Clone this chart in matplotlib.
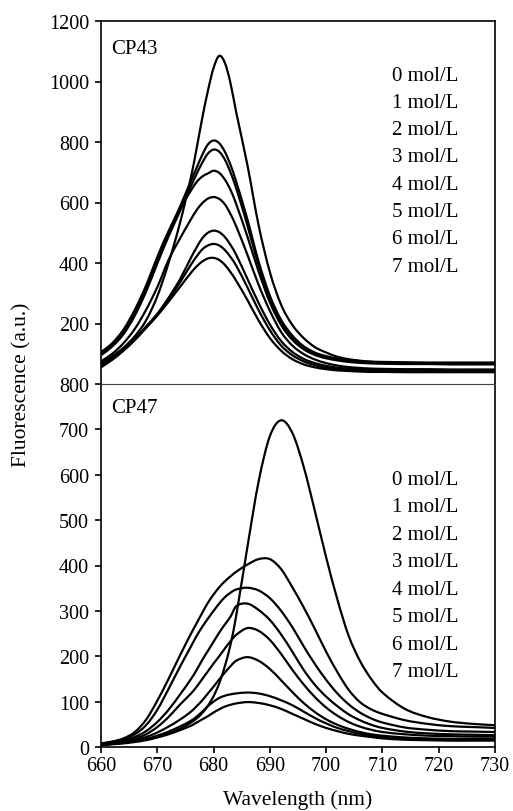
import matplotlib
matplotlib.use("Agg")
import matplotlib.pyplot as plt
from matplotlib.path import Path
from matplotlib.patches import PathPatch

plt.rcParams['font.family'] = ['Liberation Serif', 'DejaVu Serif']
plt.rcParams['font.size'] = 14.5

# Wavelength grid (nm)
wavelength = [660, 662, 664, 666, 668, 670, 672, 674, 676, 677, 678, 679, 680, 681, 682, 683, 684,
              686, 688, 690, 692, 694, 696, 698, 700, 702, 704, 706, 708, 710, 714, 718, 722, 726, 730]

conc_labels = ["0 mol/L", "1 mol/L", "2 mol/L", "3 mol/L", "4 mol/L", "5 mol/L", "6 mol/L", "7 mol/L"]

# CP43 spectra
cp43_0 = [70, 92, 120, 158, 210, 290, 400, 530, 685, 780, 880, 970, 1045, 1085, 1062, 995, 900,
          725, 525, 370, 262, 195, 152, 122, 104, 90, 82, 77, 73, 71, 68, 67, 66, 66, 66]
cp43_1 = [100, 128, 170, 232, 315, 410, 500, 585, 672, 715, 758, 792, 805, 796, 768, 725, 670,
          545, 405, 292, 212, 160, 125, 104, 92, 84, 79, 76, 74, 73, 72, 71, 71, 71, 71]
cp43_2 = [95, 124, 165, 226, 305, 398, 488, 570, 655, 695, 732, 762, 775, 768, 742, 700, 648,
          525, 392, 283, 204, 153, 120, 100, 88, 80, 75, 72, 70, 69, 68, 68, 67, 67, 67]
cp43_3 = [105, 135, 180, 245, 325, 420, 505, 578, 640, 668, 686, 696, 705, 698, 676, 642, 596,
          488, 372, 270, 195, 146, 115, 96, 85, 78, 73, 70, 68, 67, 66, 66, 65, 65, 65]
cp43_4 = [75, 100, 135, 182, 245, 320, 410, 480, 545, 575, 598, 613, 618, 612, 594, 562, 522,
          428, 328, 242, 172, 127, 99, 81, 69, 61, 56, 53, 51, 50, 49, 49, 48, 48, 48]
cp43_5 = [62, 86, 116, 150, 190, 232, 285, 345, 418, 452, 482, 500, 507, 502, 486, 460, 428,
          348, 268, 197, 142, 106, 83, 69, 60, 54, 51, 49, 48, 47, 46, 46, 46, 45, 45]
cp43_6 = [58, 83, 113, 148, 188, 230, 280, 335, 395, 422, 445, 458, 463, 458, 443, 420, 392,
          320, 244, 178, 127, 95, 75, 62, 54, 49, 46, 44, 43, 43, 42, 42, 42, 42, 42]
cp43_7 = [55, 80, 110, 145, 185, 226, 272, 320, 368, 389, 405, 415, 417, 410, 394, 370, 342,
          278, 210, 152, 110, 82, 65, 55, 49, 45, 43, 41, 40, 40, 39, 39, 39, 39, 39]

# CP47 spectra
cp47_0 = [5, 7, 10, 13, 17, 22, 30, 40, 54, 63, 75, 91, 112, 140, 178, 225, 288,
          440, 585, 685, 720, 692, 618, 520, 418, 325, 245, 190, 150, 120, 84, 66, 56, 51, 48]
cp47_1 = [8, 12, 19, 33, 60, 102, 150, 201, 250, 273, 296, 318, 336, 352, 365, 376, 386,
          402, 414, 414, 392, 352, 308, 260, 210, 165, 126, 99, 83, 73, 59, 51, 46, 44, 42]
cp47_2 = [7, 11, 17, 28, 48, 82, 128, 176, 222, 245, 265, 283, 300, 316, 330, 340, 347,
          351, 345, 328, 300, 264, 222, 183, 148, 118, 94, 76, 63, 54, 43, 38, 35, 34, 33]
cp47_3 = [6, 9, 14, 22, 35, 55, 82, 115, 150, 170, 192, 212, 232, 252, 270, 287, 310,
          316, 302, 280, 248, 210, 170, 137, 111, 90, 72, 59, 49, 42, 34, 30, 28, 27, 26]
cp47_4 = [5, 8, 12, 18, 28, 44, 66, 93, 118, 133, 150, 167, 184, 200, 217, 233, 247,
          262, 256, 236, 205, 170, 138, 110, 87, 69, 55, 45, 38, 33, 28, 25, 24, 23, 23]
cp47_5 = [5, 7, 10, 15, 22, 32, 45, 60, 78, 90, 103, 118, 133, 149, 164, 178, 190,
          198, 190, 172, 147, 121, 97, 77, 61, 49, 40, 33, 28, 25, 21, 19, 18, 18, 18]
cp47_6 = [5, 7, 9, 13, 18, 25, 34, 45, 58, 67, 78, 90, 100, 108, 113, 116, 118,
          120, 118, 112, 103, 92, 78, 64, 52, 42, 35, 29, 25, 22, 19, 17, 16, 16, 16]
cp47_7 = [4, 6, 8, 11, 15, 21, 28, 37, 47, 54, 61, 68, 76, 83, 89, 93, 96,
          99, 97, 92, 84, 73, 62, 51, 42, 35, 29, 25, 22, 19, 16, 15, 14, 14, 14]

cp43_series = [cp43_0, cp43_1, cp43_2, cp43_3, cp43_4, cp43_5, cp43_6, cp43_7]
cp47_series = [cp47_0, cp47_1, cp47_2, cp47_3, cp47_4, cp47_5, cp47_6, cp47_7]


def smooth_line(ax, xs, ys, **kw):
    """Draw a 'smoothed line' (cubic Hermite / Bezier segments through the points)."""
    n = len(xs)
    slopes = []
    for i in range(n):
        a, b = max(i - 1, 0), min(i + 1, n - 1)
        slopes.append((ys[b] - ys[a]) / (xs[b] - xs[a]))
    verts = [(xs[0], ys[0])]
    codes = [Path.MOVETO]
    for i in range(n - 1):
        h = xs[i + 1] - xs[i]
        verts += [(xs[i] + h / 3, ys[i] + slopes[i] * h / 3),
                  (xs[i + 1] - h / 3, ys[i + 1] - slopes[i + 1] * h / 3),
                  (xs[i + 1], ys[i + 1])]
        codes += [Path.CURVE4] * 3
    ax.add_patch(PathPatch(Path(verts, codes), fill=False, **kw))


fig = plt.figure(figsize=(5.13, 8.12), dpi=100)
W, H = 513.0, 812.0
ax_top = fig.add_axes([101 / W, 1 - 385 / H, 394 / W, 363 / H])
ax_bot = fig.add_axes([101 / W, 1 - 748 / H, 394 / W, 363 / H])

for ys in cp43_series:
    smooth_line(ax_top, wavelength, ys, edgecolor='black', linewidth=1.6, joinstyle='round')
for ys in cp47_series:
    smooth_line(ax_bot, wavelength, ys, edgecolor='black', linewidth=1.6, joinstyle='round')

# Top panel
ax_top.set_xlim(660, 730)
ax_top.set_ylim(0, 1200)
ax_top.set_yticks([200, 400, 600, 800, 1000, 1200])
ax_top.set_xticks([])
ax_top.spines['bottom'].set_visible(False)
ax_top.text(0.025, 0.923, "CP43", transform=ax_top.transAxes, va='center', ha='left', fontsize=15)
for i, lab in enumerate(conc_labels):
    ax_top.text(0.739, 0.851 - i * 0.0752, lab, transform=ax_top.transAxes,
                va='center', ha='left', fontsize=15)

# Bottom panel
ax_bot.set_xlim(660, 730)
ax_bot.set_ylim(0, 800)
ax_bot.set_yticks(range(0, 801, 100))
ax_bot.set_xticks(range(660, 731, 10))
ax_bot.spines['top'].set_linewidth(0.8)
ax_bot.spines['top'].set_color('#444444')
ax_bot.text(0.025, 0.934, "CP47", transform=ax_bot.transAxes, va='center', ha='left', fontsize=15)
for i, lab in enumerate(conc_labels):
    ax_bot.text(0.739, 0.738 - i * 0.0759, lab, transform=ax_bot.transAxes,
                va='center', ha='left', fontsize=15)

for ax in (ax_top, ax_bot):
    for side in ('left', 'right'):
        ax.spines[side].set_linewidth(1.2)
    ax.tick_params(direction='out', length=4.5, width=1.2, pad=4, right=False, top=False)
ax_top.spines['top'].set_linewidth(1.2)
ax_bot.spines['bottom'].set_linewidth(1.2)
ax_bot.tick_params(axis='x', pad=2)

fig.text(22 / W, 1 - 385 / H, "Fluorescence (a.u.)", rotation=90, va='center', ha='center', fontsize=15.5)
fig.text(298 / W, 1 - 800 / H, "Wavelength (nm)", va='center', ha='center', fontsize=15.5)

plt.savefig("out.png", dpi=100)
plt.close()
